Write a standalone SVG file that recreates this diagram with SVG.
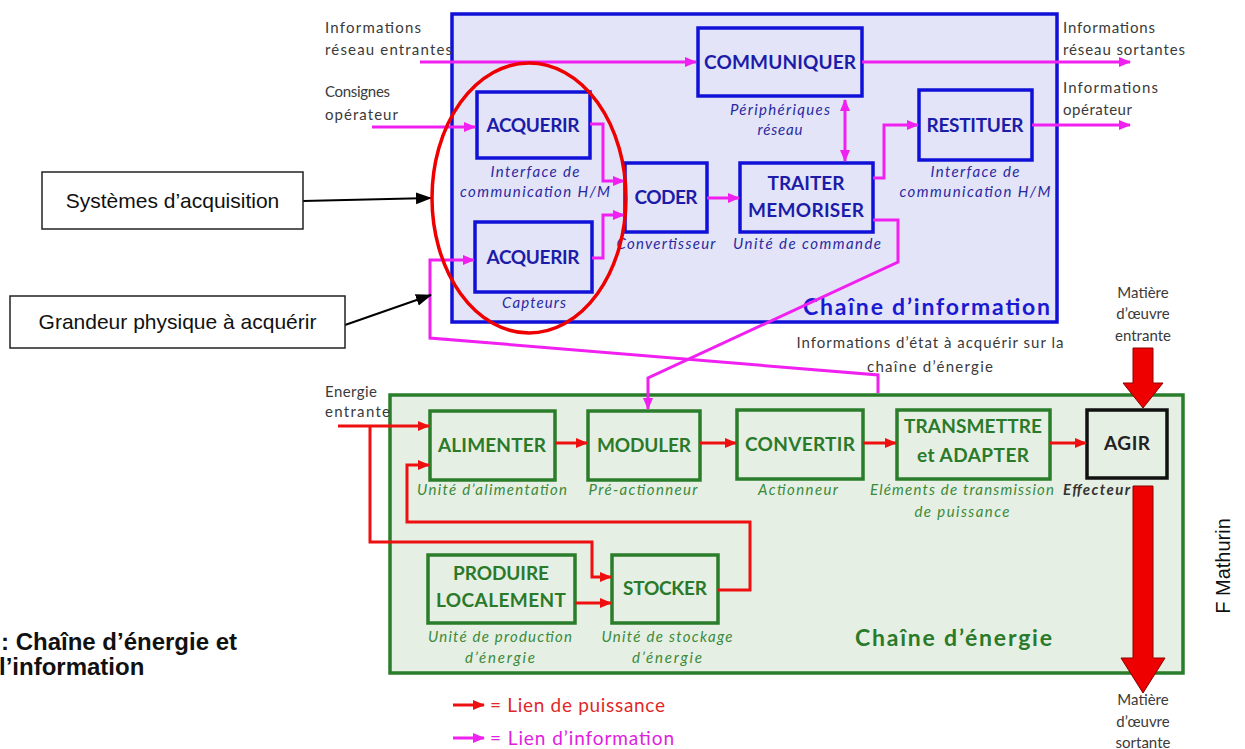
<svg xmlns="http://www.w3.org/2000/svg" width="1245" height="749" viewBox="0 0 1245 749">
<defs>
<style>
.t{font-family:Lato,"Open Sans","Liberation Sans",sans-serif}
.ext{font-family:"Liberation Sans",Arial,sans-serif;fill:#111}
.gray{font-size:15px;fill:#3a3a3a}
.bb{font-size:19px;font-weight:bold;fill:#1c1ca8;text-anchor:middle}
.bi{font-size:15px;font-style:italic;fill:#2a2aa0;text-anchor:middle}
.gb{font-size:19px;font-weight:bold;fill:#2a7a2a;text-anchor:middle}
.gi{font-size:15px;font-style:italic;fill:#3a8a3a;text-anchor:middle}
.bbox{fill:#e4e4f8;stroke:#1010d8;stroke-width:3.5}
.gbox{fill:#e6efe4;stroke:#2a7d2a;stroke-width:3.5}
.mag{fill:none;stroke:#f020f0;stroke-width:3;marker-end:url(#am)}
.red{fill:none;stroke:#ee1010;stroke-width:3;marker-end:url(#ar)}
.blk{fill:none;stroke:#000;stroke-width:2;marker-end:url(#ak)}
.big{fill:#ee0000;stroke:#8a0000;stroke-width:1}
</style>
<marker id="am" markerUnits="userSpaceOnUse" markerWidth="12" markerHeight="12" refX="11" refY="6" orient="auto"><path d="M0,1 L12,6 L0,11 z" fill="#f020f0"/></marker>
<marker id="ams" markerUnits="userSpaceOnUse" markerWidth="12" markerHeight="12" refX="1" refY="6" orient="auto"><path d="M12,1 L0,6 L12,11 z" fill="#f020f0"/></marker>
<marker id="ar" markerUnits="userSpaceOnUse" markerWidth="12" markerHeight="12" refX="11" refY="6" orient="auto"><path d="M0,1 L12,6 L0,11 z" fill="#ee1010"/></marker>
<marker id="ak" markerUnits="userSpaceOnUse" markerWidth="16" markerHeight="14" refX="15" refY="7" orient="auto"><path d="M0,1 L16,7 L0,13 z" fill="#000"/></marker>
</defs>
<rect width="1245" height="749" fill="#fff"/>

<g id="chaine-information">
<rect class="bbox" x="452" y="14" width="605" height="308"/>
<text class="t" x="803" y="315" font-size="23" font-weight="bold" fill="#1a1ad0" textLength="247">Chaîne d’information</text>
</g>
<g id="chaine-energie">
<rect class="gbox" x="390" y="395" width="793" height="278"/>
<text class="t" x="855" y="646" font-size="23" font-weight="bold" fill="#2a7a2a" textLength="197">Chaîne d’énergie</text>
</g>

<g id="ext-texts" class="t gray">
<text x="325" y="33" textLength="96">Informations</text>
<text x="325" y="55" textLength="127">réseau entrantes</text>
<text x="325" y="97" textLength="65">Consignes</text>
<text x="325" y="120" textLength="73">opérateur</text>
<text x="1063" y="33" textLength="92">Informations</text>
<text x="1063" y="55" textLength="122">réseau sortantes</text>
<text x="1063" y="93" textLength="95">Informations</text>
<text x="1063" y="115" textLength="69">opérateur</text>
<text x="930" y="348" text-anchor="middle" textLength="267">Informations d’état à acquérir sur la</text>
<text x="930" y="372" text-anchor="middle" textLength="126">chaîne d’énergie</text>
<text x="1143" y="298" text-anchor="middle">Matière</text>
<text x="1143" y="319" text-anchor="middle">d’œuvre</text>
<text x="1143" y="341" text-anchor="middle">entrante</text>
<text x="1143" y="705" text-anchor="middle">Matière</text>
<text x="1143" y="727" text-anchor="middle">d’œuvre</text>
<text x="1143" y="748" text-anchor="middle">sortante</text>
<text x="325" y="397" textLength="52">Energie</text>
<text x="325" y="417" textLength="65">entrante</text>
</g>

<g id="communiquer">
<rect class="bbox" x="698" y="28" width="164" height="68"/>
<text class="t bb" x="780" y="68.5" textLength="152">COMMUNIQUER</text>
<text class="t bi" x="780" y="115" textLength="100">Périphériques</text>
<text class="t bi" x="780" y="135" textLength="45">réseau</text>
</g>
<g id="acquerir1">
<rect class="bbox" x="477" y="92" width="113" height="66"/>
<text class="t bb" x="533" y="131.5" textLength="93">ACQUERIR</text>
<text class="t bi" x="535" y="177" textLength="89">Interface de</text>
<text class="t bi" x="535" y="197" textLength="150">communication H/M</text>
</g>
<g id="acquerir2">
<rect class="bbox" x="475" y="222" width="117" height="70"/>
<text class="t bb" x="533" y="263.5" textLength="93">ACQUERIR</text>
<text class="t bi" x="534" y="308" textLength="64">Capteurs</text>
</g>
<g id="coder">
<rect class="bbox" x="625" y="163" width="82" height="69"/>
<text class="t bb" x="666" y="204" textLength="63">CODER</text>
<text class="t bi" x="666" y="249" textLength="99">Convertisseur</text>
</g>
<g id="traiter">
<rect class="bbox" x="740" y="163" width="133" height="69"/>
<text class="t bb" x="806" y="190" textLength="77">TRAITER</text>
<text class="t bb" x="806" y="217" textLength="116">MEMORISER</text>
<text class="t bi" x="807" y="249" textLength="148">Unité de commande</text>
</g>
<g id="restituer">
<rect class="bbox" x="919" y="90" width="113" height="70"/>
<text class="t bb" x="975" y="131.5" textLength="97">RESTITUER</text>
<text class="t bi" x="975" y="177" textLength="89">Interface de</text>
<text class="t bi" x="975" y="197" textLength="151">communication H/M</text>
</g>

<g id="alimenter">
<rect class="gbox" x="430" y="411" width="125" height="69"/>
<text class="t gb" x="492" y="451.5" textLength="108">ALIMENTER</text>
<text class="t gi" x="492" y="495" textLength="150">Unité d’alimentation</text>
</g>
<g id="moduler">
<rect class="gbox" x="588" y="411" width="112" height="69"/>
<text class="t gb" x="644" y="451.5" textLength="94">MODULER</text>
<text class="t gi" x="643" y="495" textLength="109">Pré-actionneur</text>
</g>
<g id="convertir">
<rect class="gbox" x="737" y="410" width="126" height="69"/>
<text class="t gb" x="800" y="451" textLength="110">CONVERTIR</text>
<text class="t gi" x="798" y="495" textLength="80">Actionneur</text>
</g>
<g id="transmettre">
<rect class="gbox" x="897" y="410" width="153" height="69"/>
<text class="t gb" x="973" y="433" textLength="138">TRANSMETTRE</text>
<text class="t gb" x="973" y="462" textLength="112">et ADAPTER</text>
<text class="t gi" x="962" y="495" textLength="184">Eléments de transmission</text>
<text class="t gi" x="962" y="517" textLength="95">de puissance</text>
</g>
<g id="agir">
<rect x="1087" y="410" width="80" height="68" fill="#e6efe4" stroke="#111" stroke-width="3.5"/>
<text class="t" x="1127" y="450" font-size="19" font-weight="bold" fill="#222" text-anchor="middle" textLength="46">AGIR</text>
<text class="t" x="1063" y="495" font-size="15" font-weight="bold" font-style="italic" fill="#333" textLength="67">Effecteur</text>
</g>
<g id="produire">
<rect class="gbox" x="428" y="555" width="147" height="68"/>
<text class="t gb" x="501" y="580" textLength="96">PRODUIRE</text>
<text class="t gb" x="501" y="607" textLength="130">LOCALEMENT</text>
<text class="t gi" x="500" y="642" textLength="144">Unité de production</text>
<text class="t gi" x="500" y="663" textLength="70">d’énergie</text>
</g>
<g id="stocker">
<rect class="gbox" x="612" y="555" width="106" height="68"/>
<text class="t gb" x="665" y="595" textLength="84">STOCKER</text>
<text class="t gi" x="667" y="642" textLength="131">Unité de stockage</text>
<text class="t gi" x="667" y="663" textLength="70">d’énergie</text>
</g>

<g id="connectors">
<path class="mag" d="M420,62 H696"/>
<path class="mag" d="M862,62 H1130"/>
<path class="mag" d="M372,127 H475"/>
<path class="mag" d="M590,124 H603 V181 H624"/>
<path class="mag" d="M592,258 H603 V215 H624"/>
<path class="mag" d="M707,198 H739"/>
<path class="mag" d="M845,100 V161" marker-start="url(#ams)"/>
<path class="mag" d="M873,178 H884 V125 H918"/>
<path class="mag" d="M1032,125 H1130"/>
<path class="mag" d="M873,220 H898 V262 L648,378 V409"/>
<path class="mag" d="M878,393 V375 L430,338 V260 H474"/>
<path class="red" d="M338,426 H429"/>
<path class="red" d="M370,426 V542 H592 V577 H611"/>
<path class="red" d="M718,590 H750 V522 H407 V465 H429"/>
<path class="red" d="M555,443 H587"/>
<path class="red" d="M700,443 H736"/>
<path class="red" d="M863,443 H896"/>
<path class="red" d="M1050,443 H1086"/>
<path class="red" d="M575,603 H611"/>
<path class="big" d="M1133,348 H1153 V383 H1163 L1143,408 L1123,383 H1133 Z"/>
<path class="big" d="M1133,486 H1153 V658 H1165 L1143,693 L1121,658 H1133 Z"/>
<path class="blk" d="M303,201 L431,198"/>
<path class="blk" d="M345,325 L431,295"/>
</g>

<g id="selection">
<ellipse cx="529" cy="198" rx="97" ry="135" fill="none" stroke="#ee0000" stroke-width="3.5"/>
</g>

<g id="systemes-acquisition">
<rect x="42" y="172" width="261" height="57" fill="#fff" stroke="#222" stroke-width="1.5"/>
<text class="ext" x="172.5" y="208" font-size="21" text-anchor="middle">Systèmes d’acquisition</text>
</g>
<g id="grandeur-physique">
<rect x="10" y="296" width="335" height="52" fill="#fff" stroke="#222" stroke-width="1.5"/>
<text class="ext" x="177.5" y="329" font-size="21" text-anchor="middle">Grandeur physique à acquérir</text>
</g>

<g id="legend">
<path class="red" d="M453,705 H484"/>
<text class="t" x="490" y="712" font-size="19" fill="#e02828" textLength="175">= Lien de puissance</text>
<path class="mag" d="M453,738 H484"/>
<text class="t" x="490" y="745" font-size="19" fill="#e020e0" textLength="184">= Lien d’information</text>
</g>

<g id="caption">
<text class="ext" x="1" y="650" font-size="24" font-weight="bold">: Chaîne d’énergie et</text>
<text class="ext" x="-1" y="675" font-size="24" font-weight="bold">l’information</text>
<text class="ext" transform="translate(1230,566) rotate(-90)" font-size="20" text-anchor="middle">F Mathurin</text>
</g>
</svg>
